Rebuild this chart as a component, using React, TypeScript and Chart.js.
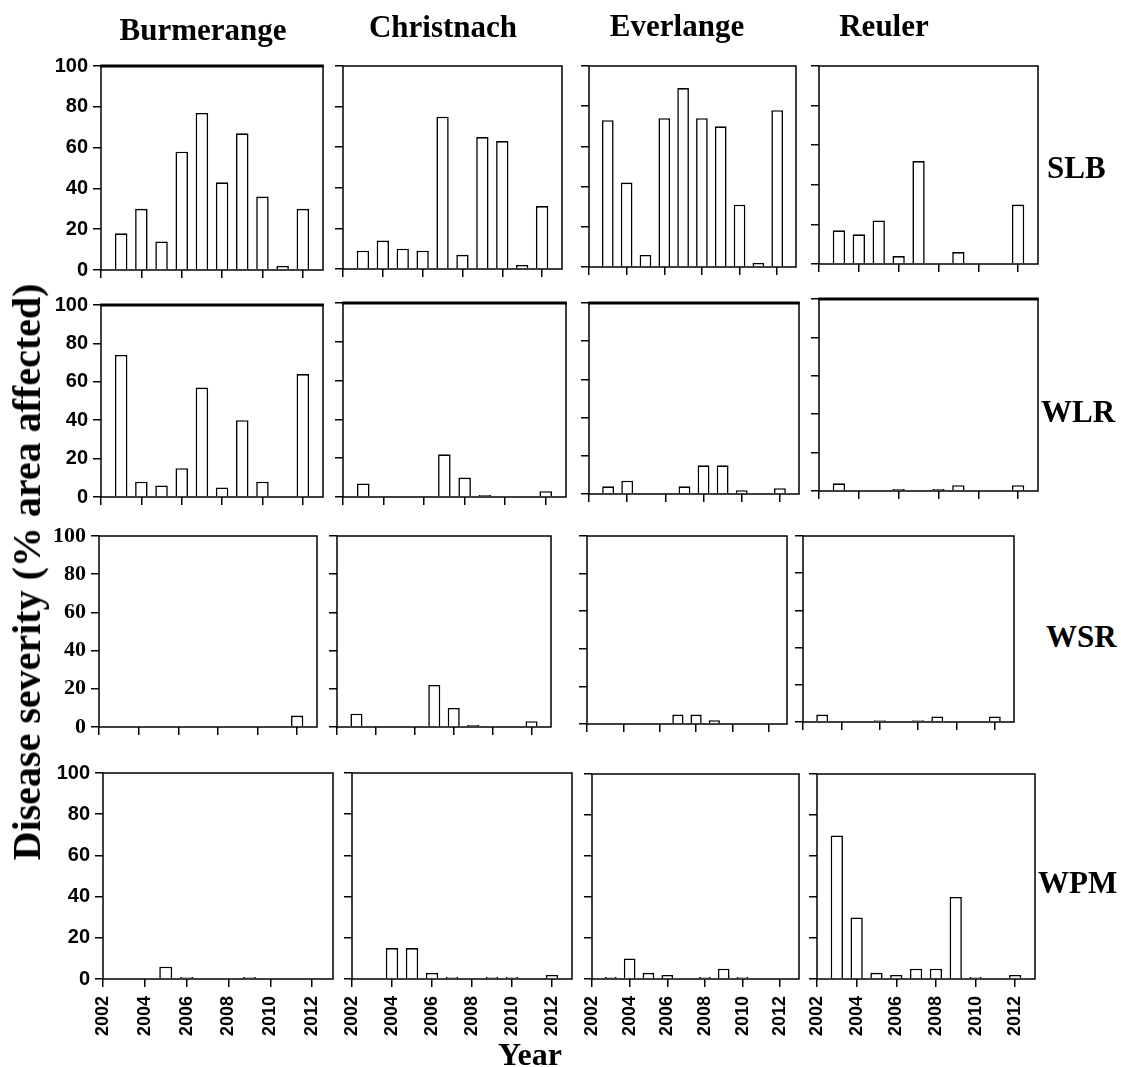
import React, { useEffect, useRef } from 'react';
import { Chart, registerables } from 'chart.js';

Chart.register(...registerables);

// ---------- data ----------
const years = [2003, 2004, 2005, 2006, 2007, 2008, 2009, 2010, 2011, 2012];
const yearTicks = [2002, 2004, 2006, 2008, 2010, 2012];
const severityTicks = [0, 20, 40, 60, 80, 100];
const sites = ['Burmerange', 'Christnach', 'Everlange', 'Reuler'];
const diseases = ['SLB', 'WLR', 'WSR', 'WPM'];

// SLB
const slbBurmerange = [18, 30, 14, 58, 77, 43, 67, 36, 2, 30];
const slbChristnach = [9, 14, 10, 9, 75, 7, 65, 63, 2, 31];
const slbEverlange = [73, 42, 6, 74, 89, 74, 70, 31, 2, 78];
const slbReuler = [17, 15, 22, 4, 52, 0, 6, 0, 0, 30];
// WLR
const wlrBurmerange = [74, 8, 6, 15, 57, 5, 40, 8, 0, 64];
const wlrChristnach = [7, 0, 0, 0, 22, 10, 1, 0, 0, 3];
const wlrEverlange = [4, 7, 0, 0, 4, 15, 15, 2, 0, 3];
const wlrReuler = [4, 0, 0, 1, 0, 1, 3, 0, 0, 3];
// WSR
const wsrBurmerange = [0, 0, 0, 0, 0, 0, 0, 0, 0, 6];
const wsrChristnach = [7, 0, 0, 0, 22, 10, 1, 0, 0, 3];
const wsrEverlange = [0, 0, 0, 0, 5, 5, 2, 0, 0, 0];
const wsrReuler = [4, 0, 0, 1, 0, 1, 3, 0, 0, 3];
// WPM
const wpmBurmerange = [0, 0, 6, 1, 0, 0, 1, 0, 0, 0];
const wpmChristnach = [0, 15, 15, 3, 1, 0, 1, 1, 0, 2];
const wpmEverlange = [1, 10, 3, 2, 0, 1, 5, 1, 0, 0];
const wpmReuler = [70, 30, 3, 2, 5, 5, 40, 1, 0, 2];

const severity: number[][][] = [
  [slbBurmerange, slbChristnach, slbEverlange, slbReuler],
  [wlrBurmerange, wlrChristnach, wlrEverlange, wlrReuler],
  [wsrBurmerange, wsrChristnach, wsrEverlange, wsrReuler],
  [wpmBurmerange, wpmChristnach, wpmEverlange, wpmReuler],
];

// ---------- layout (page pixels): [left, top, right, bottom] of each plot area ----------
const panelRects: number[][][] = [
  [[101, 66, 323, 270], [343, 66, 562, 269], [589, 66, 796, 267], [819, 66, 1038, 264]],
  [[101, 305, 323, 497], [343, 303, 566, 497], [589, 303, 799, 494], [819, 299, 1038, 491]],
  [[99, 536, 317, 727], [337, 536, 551, 727], [587, 536, 787, 724], [803, 536, 1014, 722]],
  [[103, 773, 333, 979], [352, 773, 572, 979], [592, 774, 799, 979], [817, 774, 1035, 979]],
];
const thickTop = [
  [true, false, false, false],
  [true, true, true, true],
  [false, false, false, false],
  [false, false, false, false],
];
const titlePos = [[203, 29], [443, 26], [677, 25], [884, 25]];
const rowLabelPos = [[1047, 167], [1041, 411], [1046, 636], [1038, 882]];

const SERIF = '"Liberation Serif", "Times New Roman", serif';
const SANS = '"Liberation Sans", Arial, sans-serif';

const ML = 70, MT = 20, MR = 20, MB = 70;

function Panel({ row, col }: { row: number; col: number }) {
  const ref = useRef<HTMLCanvasElement>(null);
  const [l, t, r, b] = panelRects[row][col];
  const w = r - l + ML + MR;
  const h = b - t + MT + MB;

  useEffect(() => {
    if (!ref.current) return;
    const values = severity[row][col];
    const showY = col === 0;
    const showX = row === 3;
    const yFont = row === 2
      ? { family: SERIF, weight: 'bold' as const, size: 22 }
      : { family: SANS, weight: 'bold' as const, size: 20 };
    const heavyTop = thickTop[row][col];
    const framePlugin = {
      id: 'frame',
      afterDatasetsDraw(chart: any) {
        const { ctx, chartArea } = chart;
        const { left, top, right, bottom } = chartArea;
        ctx.save();
        ctx.strokeStyle = '#000';
        ctx.lineWidth = 1.5;
        ctx.strokeRect(left, top, right - left, bottom - top);
        if (heavyTop) {
          ctx.lineWidth = 3;
          ctx.beginPath();
          ctx.moveTo(left - 0.75, top);
          ctx.lineTo(right + 0.75, top);
          ctx.stroke();
        }
        ctx.restore();
      },
    };
    const chart = new Chart(ref.current, {
      type: 'bar',
      data: {
        datasets: [
          {
            data: years.map((x, i) => ({ x, y: values[i] > 0 ? values[i] : null })) as any,
            backgroundColor: '#ffffff',
            borderColor: '#000000',
            borderWidth: 1.6,
            borderSkipped: 'start',
            barPercentage: 0.62,
            categoryPercentage: 1,
          },
        ],
      },
      options: {
        animation: false,
        responsive: false,
        maintainAspectRatio: false,
        layout: { padding: { left: 0, top: MT, right: MR, bottom: 0 } },
        plugins: { legend: { display: false }, tooltip: { enabled: false } },
        scales: {
          x: {
            type: 'linear',
            min: 2002,
            max: 2013,
            offset: false,
            afterBuildTicks: (s: any) => {
              s.ticks = yearTicks.map((v) => ({ value: v }));
            },
            afterFit: (s: any) => {
              s.height = MB;
            },
            grid: {
              display: true,
              offset: false,
              drawOnChartArea: false,
              drawTicks: true,
              tickLength: 8,
              color: '#000',
              lineWidth: 1.5,
            },
            border: { display: false },
            ticks: {
              display: showX,
              autoSkip: false,
              maxRotation: 90,
              minRotation: 90,
              padding: 9,
              color: '#000',
              font: { family: SANS, weight: 'bold', size: 18 },
              callback: (v: any) => String(v),
            },
          },
          y: {
            type: 'linear',
            min: 0,
            max: 100,
            afterBuildTicks: (s: any) => {
              s.ticks = severityTicks.map((v) => ({ value: v }));
            },
            afterFit: (s: any) => {
              s.width = ML;
            },
            grid: {
              display: true,
              drawOnChartArea: false,
              drawTicks: true,
              tickLength: 8,
              color: '#000',
              lineWidth: 1.5,
            },
            border: { display: false },
            ticks: {
              display: showY,
              padding: 5,
              color: '#000',
              font: yFont,
              callback: (v: any) => String(v),
            },
          },
        },
      },
      plugins: [framePlugin],
    });
    return () => chart.destroy();
  }, [row, col]);

  return (
    <canvas
      ref={ref}
      width={w}
      height={h}
      style={{ position: 'absolute', left: l - ML, top: t - MT, width: w, height: h }}
    />
  );
}

const bigText = (size: number): React.CSSProperties => ({
  position: 'absolute',
  fontFamily: SERIF,
  fontWeight: 'bold',
  fontSize: size,
  lineHeight: 1,
  whiteSpace: 'nowrap',
  color: '#000',
});

export default function App() {
  const panels: React.ReactNode[] = [];
  for (let r = 0; r < 4; r++) {
    for (let c = 0; c < 4; c++) {
      panels.push(<Panel key={`${r}-${c}`} row={r} col={c} />);
    }
  }
  return (
    <div
      style={{
        position: 'absolute',
        left: 0,
        top: 0,
        width: 1121,
        height: 1067,
        background: '#fff',
        overflow: 'hidden',
      }}
    >
      {panels}
      {sites.map((s, i) => (
        <div
          key={s}
          style={{
            ...bigText(31),
            left: titlePos[i][0],
            top: titlePos[i][1],
            transform: 'translate(-50%, -50%)',
          }}
        >
          {s}
        </div>
      ))}
      {diseases.map((d, i) => (
        <div
          key={d}
          style={{
            ...bigText(31),
            left: rowLabelPos[i][0],
            top: rowLabelPos[i][1],
            transform: 'translate(0, -50%)',
          }}
        >
          {d}
        </div>
      ))}
      <div
        style={{
          ...bigText(40),
          left: 27,
          top: 572,
          transform: 'translate(-50%, -50%) rotate(-90deg)',
        }}
      >
        Disease severity (% area affected)
      </div>
      <div
        style={{
          ...bigText(32),
          left: 530,
          top: 1054,
          transform: 'translate(-50%, -50%)',
        }}
      >
        Year
      </div>
    </div>
  );
}
